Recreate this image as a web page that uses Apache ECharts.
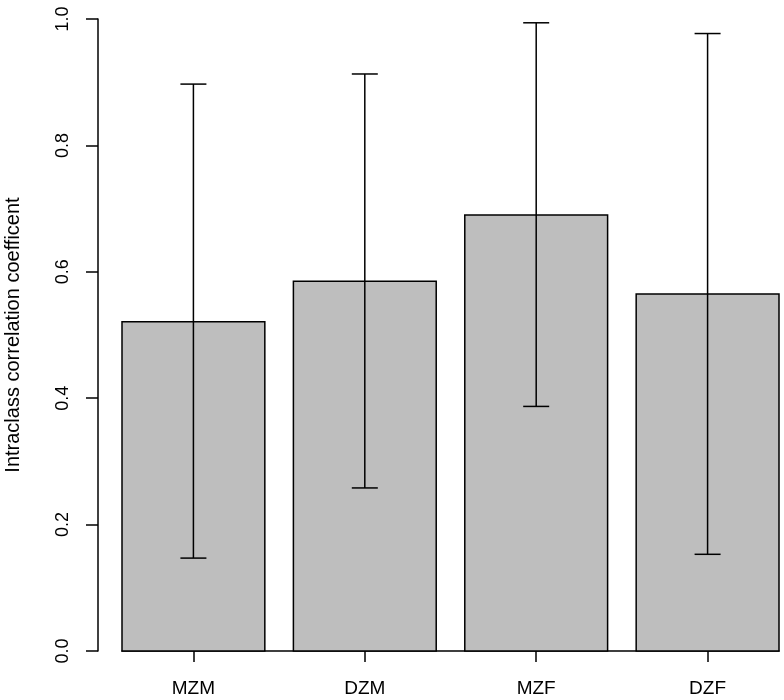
<!DOCTYPE html>
<html><head><meta charset="utf-8">
<script src="https://cdn.jsdelivr.net/npm/echarts@6/dist/echarts.min.js"></script>
<style>html,body{margin:0;padding:0;background:#fff}#c{width:784px;height:700px}</style>
</head><body><div id="c"></div>
<script>
const categories = ['MZM', 'DZM', 'MZF', 'DZF'];
const positions = [0.7, 1.9, 3.1, 4.3];
const values = [0.521, 0.585, 0.690, 0.565];
const lower = [0.147, 0.258, 0.387, 0.153];
const upper = [0.897, 0.913, 0.994, 0.977];
const yTicks = [0, 0.2, 0.4, 0.6, 0.8, 1.0];

const chart = echarts.init(document.getElementById('c'), null, {renderer: 'canvas'});
const FONT = 'Liberation Sans';
const barData = positions.map((p, i) => [p, values[i]]);
const errData = positions.map((p, i) => [p, lower[i], upper[i]]);

chart.setOption({
  animation: false,
  grid: {left: 122, right: 5, top: 19, bottom: 49, containLabel: false, outerBoundsMode: 'none'},
  xAxis: {
    type: 'value', min: 0.2, max: 4.8,
    splitLine: {show: false},
    axisLine: {show: true, onZero: false, lineStyle: {color: '#000', width: 1.5}},
    axisTick: {show: true, customValues: positions, length: 11, lineStyle: {color: '#000', width: 1.5}},
    axisLabel: {show: true, customValues: positions, margin: 28, fontFamily: FONT, fontSize: 19, color: '#000',
      formatter: v => { const i = positions.findIndex(p => Math.abs(p - v) < 1e-6); return i >= 0 ? categories[i] : ''; }}
  },
  yAxis: {
    type: 'value', min: 0, max: 1, interval: 0.2, offset: 24,
    name: 'Intraclass correlation coefficent', nameLocation: 'middle', nameGap: 75,
    nameTextStyle: {fontFamily: FONT, fontSize: 20, color: '#000'},
    splitLine: {show: false},
    axisLine: {show: true, lineStyle: {color: '#000', width: 1.5}},
    axisTick: {show: true, length: 12, lineStyle: {color: '#000', width: 1.5}},
    axisLabel: {rotate: 90, margin: 26, fontFamily: FONT, fontSize: 18, color: '#000',
      formatter: v => v.toFixed(1)}
  },
  series: [
    {
      type: 'custom', data: barData, encode: {x: 0, y: 1},
      renderItem: (params, api) => {
        const x = api.value(0), y = api.value(1);
        const p0 = api.coord([x - 0.5, 0]);
        const p1 = api.coord([x + 0.5, y]);
        return {type: 'rect', shape: {x: p0[0], y: p1[1], width: p1[0] - p0[0], height: p0[1] - p1[1]},
          style: {fill: '#bebebe', stroke: '#000', lineWidth: 1.5}};
      }
    },
    {
      type: 'custom', data: errData, encode: {x: 0, y: [1, 2]}, z: 5,
      renderItem: (params, api) => {
        const x = api.value(0);
        const lo = api.coord([x, api.value(1)]);
        const hi = api.coord([x, api.value(2)]);
        const hw = 13;
        const st = {stroke: '#000', lineWidth: 1.5};
        return {type: 'group', children: [
          {type: 'line', shape: {x1: lo[0], y1: lo[1], x2: hi[0], y2: hi[1]}, style: st},
          {type: 'line', shape: {x1: lo[0] - hw, y1: lo[1], x2: lo[0] + hw, y2: lo[1]}, style: st},
          {type: 'line', shape: {x1: hi[0] - hw, y1: hi[1], x2: hi[0] + hw, y2: hi[1]}, style: st}
        ]};
      }
    }
  ]
});
</script>
</body></html>
